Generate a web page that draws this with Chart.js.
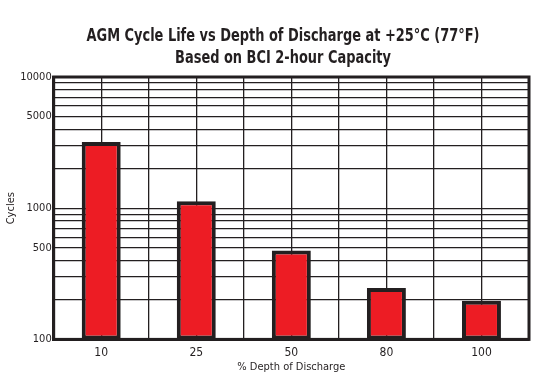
<!DOCTYPE html>
<html lang="en">
<head>
    <meta charset="UTF-8">
    <title>AGM Cycle Life vs Depth of Discharge</title>
    <script src="https://cdn.jsdelivr.net/npm/chart.js"></script>
    <style>
        body { margin: 0; background: #fff; }
    </style>
</head>
<body>
<canvas id="myChart" width="536" height="388"></canvas>

<script>
    // data
    const depthLabels = ['10', '25', '50', '80', '100'];
    const cycleValues = [3200, 1130, 475, 246, 197];

    // log grid: every 100s and 1000s, only some get a label
    const yGridValues = [100, 200, 300, 400, 500, 600, 700, 800, 900,
        1000, 2000, 3000, 4000, 5000, 6000, 7000, 8000, 9000, 10000];
    const yLabelValues = [100, 500, 1000, 5000, 10000];

    const titleLines = ['AGM Cycle Life vs Depth of Discharge at +25°C (77°F)', 'Based on BCI 2-hour Capacity'];

    const ink = '#231f20';
    const narrow = '"DejaVu Sans Condensed", "Liberation Sans", sans-serif';

    // thick frame round the plot area
    const framePlugin = {
        id: 'frame',
        afterDraw(chart) {
            const a = chart.chartArea;
            const c = chart.ctx;
            c.save();
            c.strokeStyle = ink;
            c.lineWidth = 3;
            c.strokeRect(a.left, a.top, a.right - a.left, a.bottom - a.top);
            c.restore();
        }
    };

    // condensed bold title, squeezed sideways like the original type
    const titlePlugin = {
        id: 'squeezedTitle',
        afterDraw(chart) {
            const c = chart.ctx;
            const cx = chart.width * 0.528;
            c.save();
            c.fillStyle = ink;
            c.font = 'bold 18px ' + narrow;
            c.textAlign = 'center';
            c.textBaseline = 'middle';
            titleLines.forEach((line, i) => {
                c.save();
                c.translate(cx, 36 + i * 22);
                c.scale(0.8, 1);
                c.fillText(line, 0, 0);
                c.restore();
            });
            c.restore();
        }
    };

    const ctx = document.getElementById('myChart').getContext('2d');

    new Chart(ctx, {
        type: 'bar',
        data: {
            labels: depthLabels,
            datasets: [{
                label: 'Cycles',
                data: cycleValues,
                backgroundColor: '#ed1c24',
                borderColor: ink,
                borderWidth: 4,
                borderSkipped: false,
                barPercentage: 0.41,
                categoryPercentage: 1
            }]
        },
        options: {
            responsive: false,
            animation: false,
            layout: { padding: { left: 0, right: 7, top: 77, bottom: 14 } },
            plugins: {
                legend: { display: false },
                tooltip: { enabled: false },
                title: { display: false }
            },
            scales: {
                x: {
                    offset: true,
                    grid: { offset: true, color: ink, lineWidth: 1.3, drawTicks: false },
                    border: { color: ink, width: 3 },
                    ticks: { color: ink, padding: 6, font: { family: narrow, size: 12 } },
                    title: {
                        display: true,
                        text: '% Depth of Discharge',
                        color: ink,
                        padding: { top: -5, bottom: 0 },
                        font: { family: narrow, size: 11 }
                    }
                },
                xCenter: {
                    type: 'category',
                    position: 'bottom',
                    offset: true,
                    grid: { offset: false, color: ink, lineWidth: 1.3, drawTicks: false },
                    border: { display: false },
                    ticks: { display: false }
                },
                y: {
                    type: 'logarithmic',
                    min: 100,
                    max: 10000,
                    afterBuildTicks(axis) {
                        axis.ticks = yGridValues.map(v => ({ value: v }));
                    },
                    grid: { color: ink, lineWidth: 1.3, drawTicks: false },
                    border: { color: ink, width: 3 },
                    ticks: {
                        color: ink,
                        padding: 2,
                        autoSkip: false,
                        font: { family: narrow, size: 11 },
                        callback: v => yLabelValues.includes(v) ? String(v) : ''
                    },
                    title: {
                        display: true,
                        text: 'Cycles',
                        color: ink,
                        padding: { top: 5, bottom: 0 },
                        font: { family: narrow, size: 11 }
                    }
                }
            }
        },
        plugins: [framePlugin, titlePlugin]
    });
</script>
</body>
</html>
